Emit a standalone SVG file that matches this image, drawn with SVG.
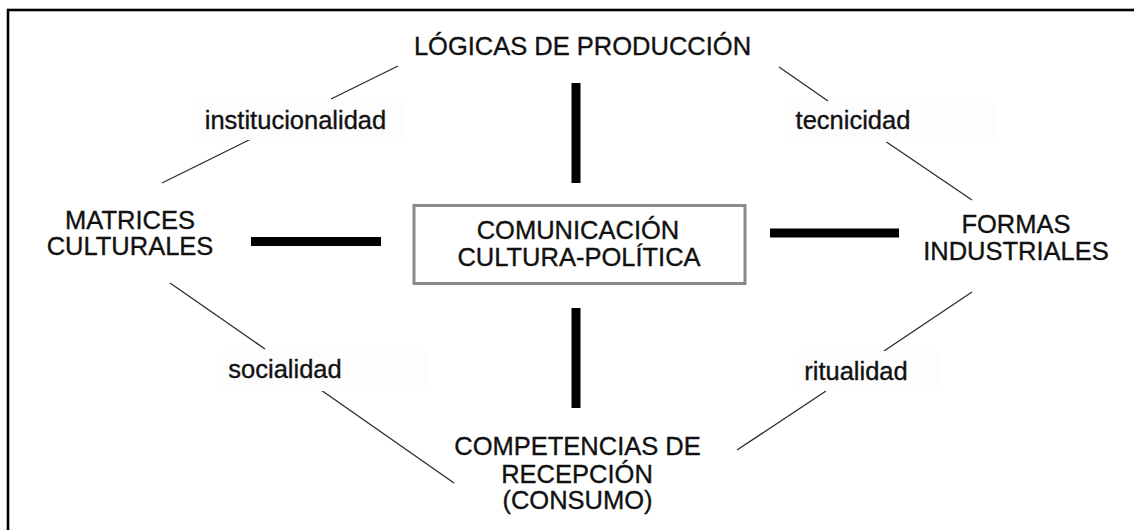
<svg xmlns="http://www.w3.org/2000/svg" width="1134" height="530" viewBox="0 0 1134 530">
<style>
.t{font-family:"Liberation Sans",Arial,Helvetica,sans-serif;font-size:25.5px;fill:#111;stroke:#111;stroke-width:0.35;text-anchor:middle}
.thin{stroke:#2a2a2a;stroke-width:1.3;fill:none}
.bar{stroke:#000;stroke-width:9;fill:none}
.lbg{fill:#fdfdfd;stroke:none}
</style>
<rect x="0" y="0" width="1134" height="530" fill="#fff"/>
<rect x="8" y="10" width="1140" height="540" fill="none" stroke="#000" stroke-width="2.6"/>
<g id="connectors">
<line class="bar" x1="576" y1="83" x2="576" y2="183"/>
<line class="bar" x1="576" y1="308" x2="576" y2="408"/>
<line class="bar" x1="251" y1="241.5" x2="381" y2="241.5"/>
<line class="bar" x1="770" y1="233" x2="899" y2="233"/>
<line class="thin" x1="398" y1="66" x2="331" y2="99"/>
<line class="thin" x1="251" y1="139" x2="162" y2="183"/>
<line class="thin" x1="779" y1="67" x2="828" y2="101"/>
<line class="thin" x1="885" y1="141" x2="972" y2="200"/>
<line class="thin" x1="170" y1="283" x2="265" y2="349"/>
<line class="thin" x1="321" y1="390" x2="454" y2="483"/>
<line class="thin" x1="972" y1="292" x2="884" y2="351"/>
<line class="thin" x1="826" y1="391" x2="737" y2="450"/>
</g>
<g id="label-institucionalidad">
<rect class="lbg" x="193" y="100" width="212" height="40" rx="4"/>
<text class="t" x="295.5" y="129">institucionalidad</text>
</g>
<g id="label-tecnicidad">
<rect class="lbg" x="784" y="102" width="212" height="40" rx="4"/>
<text class="t" x="853" y="129">tecnicidad</text>
</g>
<g id="label-socialidad">
<rect class="lbg" x="217" y="351" width="211" height="40" rx="4"/>
<text class="t" x="285" y="378">socialidad</text>
</g>
<g id="label-ritualidad">
<rect class="lbg" x="793" y="351" width="146" height="40" rx="4"/>
<text class="t" x="856" y="380">ritualidad</text>
</g>
<g id="logicas">
<text class="t" x="582.5" y="55">LÓGICAS DE PRODUCCIÓN</text>
</g>
<g id="matrices">
<text class="t" x="130" y="229">MATRICES</text>
<text class="t" x="130" y="255">CULTURALES</text>
</g>
<g id="formas">
<text class="t" x="1016" y="233">FORMAS</text>
<text class="t" x="1016" y="260">INDUSTRIALES</text>
</g>
<g id="comunicacion">
<rect x="414" y="205.5" width="331" height="78" fill="#fff" stroke="#8a8a8a" stroke-width="3"/>
<text class="t" x="578" y="239">COMUNICACIÓN</text>
<text class="t" x="579" y="266">CULTURA-POLÍTICA</text>
</g>
<g id="competencias">
<text class="t" x="577.5" y="455">COMPETENCIAS DE</text>
<text class="t" x="577" y="482.5">RECEPCIÓN</text>
<text class="t" x="577.5" y="508.5">(CONSUMO)</text>
</g>
</svg>
